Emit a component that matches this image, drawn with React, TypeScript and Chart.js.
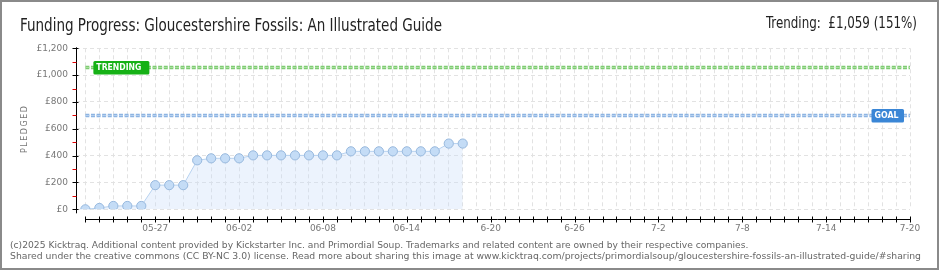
import React, { useEffect, useRef } from 'react';
import { Chart, registerables } from 'chart.js';

Chart.register(...registerables);

const days = [
  '05-22', '05-23', '05-24', '05-25', '05-26', '05-27', '05-28', '05-29', '05-30', '05-31',
  '06-01', '06-02', '06-03', '06-04', '06-05', '06-06', '06-07', '06-08', '06-09', '06-10',
  '06-11', '06-12', '06-13', '06-14', '06-15', '06-16', '06-17', '06-18', '06-19', '06-20',
  '06-21', '06-22', '06-23', '06-24', '06-25', '06-26', '06-27', '06-28', '06-29', '06-30',
  '07-01', '07-02', '07-03', '07-04', '07-05', '07-06', '07-07', '07-08', '07-09', '07-10',
  '07-11', '07-12', '07-13', '07-14', '07-15', '07-16', '07-17', '07-18', '07-19', '07-20',
];

const pledged = [
  0, 10, 25, 25, 25, 180, 180, 180, 365, 380, 380, 380, 402, 402,
  402, 402, 402, 402, 402, 432, 432, 432, 432, 432, 432, 432, 490, 490,
];

const xTickDays = ['05-27', '06-02', '06-08', '06-14', '06-20', '06-26', '07-02', '07-08', '07-14', '07-20'];
const xTickLabels = ['05-27', '06-02', '06-08', '06-14', '6-20', '6-26', '7-2', '7-8', '7-14', '7-20'];

const yTicks = [0, 100, 200, 300, 400, 500, 600, 700, 800, 900, 1000, 1100, 1200];
const yMajorStep = 200;

const goal = 700;
const trending = 1059;

const titleText = 'Funding Progress: Gloucestershire Fossils: An Illustrated Guide';
const trendingText = 'Trending:  \u00a31,059 (151%)';
const footerLines = [
  '(c)2025 Kicktraq. Additional content provided by Kickstarter Inc. and Primordial Soup. Trademarks and related content are owned by their respective companies.',
  'Shared under the creative commons (CC BY-NC 3.0) license. Read more about sharing this image at www.kicktraq.com/projects/primordialsoup/gloucestershire-fossils-an-illustrated-guide/#sharing',
];

const TICK_FONT = '"DejaVu Sans", sans-serif';
const TITLE_FONT = '"Liberation Sans Narrow", "DejaVu Sans Condensed", Roboto, sans-serif';

function labelFor(v: number): string {
  const k = xTickDays.indexOf(days[v]);
  return k >= 0 ? xTickLabels[k] : '';
}

function fmtPound(v: number): string {
  return '\u00a3' + v.toLocaleString('en-GB');
}

const decorPlugin = {
  id: 'decor',
  beforeDraw(chart: any) {
    const { ctx } = chart;
    ctx.save();
    ctx.fillStyle = '#ffffff';
    ctx.fillRect(0, 0, chart.width, chart.height);
    ctx.restore();
  },
  beforeDatasetsDraw(chart: any) {
    const { ctx, scales } = chart;
    const xs = scales.x;
    const ys = scales.y;
    const x0 = xs.getPixelForValue(0);
    const x1 = xs.getPixelForValue(days.length - 1);
    const drawRef = (val: number, outer: string, inner: string) => {
      const y = Math.round(ys.getPixelForValue(val)) + 0.5;
      ctx.save();
      ctx.setLineDash([4, 1.6]);
      ctx.lineWidth = 3.4;
      ctx.strokeStyle = outer;
      ctx.beginPath();
      ctx.moveTo(x0, y);
      ctx.lineTo(x1, y);
      ctx.stroke();
      ctx.lineWidth = 1.2;
      ctx.strokeStyle = inner;
      ctx.beginPath();
      ctx.moveTo(x0, y);
      ctx.lineTo(x1, y);
      ctx.stroke();
      ctx.restore();
    };
    drawRef(trending, '#7fcb73', '#a9e19f');
    drawRef(goal, '#8db4e2', '#b6d0ef');
  },
  afterDatasetsDraw(chart: any) {
    const { ctx, scales, chartArea } = chart;
    const xs = scales.x;
    const ys = scales.y;
    const x0 = xs.getPixelForValue(0);
    const x1 = xs.getPixelForValue(days.length - 1);
    const yZero = ys.getPixelForValue(0);
    const yTop = ys.getPixelForValue(yTicks[yTicks.length - 1]);

    ctx.save();
    // reference label boxes
    const box = (val: number, left: number, w: number, color: string, text: string, tw: number) => {
      const y = Math.round(ys.getPixelForValue(val)) + 0.5;
      ctx.fillStyle = color;
      ctx.beginPath();
      (ctx as any).roundRect(left, y - 6.5, w, 13.5, 1.5);
      ctx.fill();
      ctx.fillStyle = '#ffffff';
      ctx.font = `bold 9px ${TICK_FONT}`;
      ctx.textBaseline = 'middle';
      ctx.textAlign = 'left';
      ctx.fillText(text, left + 3, y + 0.5, tw);
    };
    box(trending, x0 + 8, 56, '#16b116', 'TRENDING', 45);
    box(goal, x1 - 38.5, 32.5, '#3a86d6', 'GOAL', 24);

    // y axis
    const ax = Math.round(chartArea.left) + 0.5;
    ctx.strokeStyle = '#000000';
    ctx.lineWidth = 1;
    ctx.beginPath();
    ctx.moveTo(ax, yTop - 1);
    ctx.lineTo(ax, yZero + 4);
    ctx.stroke();
    yTicks.forEach((v) => {
      const y = Math.round(ys.getPixelForValue(v)) + 0.5;
      const major = v % yMajorStep === 0;
      ctx.strokeStyle = major ? '#000000' : '#e00000';
      ctx.beginPath();
      ctx.moveTo(ax - 4, y);
      ctx.lineTo(major ? ax + 2 : ax, y);
      ctx.stroke();
    });

    // x axis
    const ay = Math.round(yZero + 10) + 0.5;
    ctx.strokeStyle = '#000000';
    ctx.beginPath();
    ctx.moveTo(x0, ay);
    ctx.lineTo(x1, ay);
    ctx.stroke();
    days.forEach((_, i) => {
      const x = Math.round(xs.getPixelForValue(i)) + 0.5;
      ctx.beginPath();
      ctx.moveTo(x, ay - 3);
      ctx.lineTo(x, ay + 3);
      ctx.stroke();
    });

    // PLEDGED axis title
    ctx.save();
    ctx.translate(25, (yTop + yZero) / 2);
    ctx.rotate(-Math.PI / 2);
    ctx.fillStyle = '#777777';
    ctx.font = `8px ${TICK_FONT}`;
    (ctx as any).letterSpacing = '1.5px';
    ctx.textAlign = 'center';
    ctx.textBaseline = 'middle';
    ctx.fillText('PLEDGED', 0, 0);
    ctx.restore();

    // title
    ctx.fillStyle = '#222222';
    ctx.font = `17px ${TITLE_FONT}`;
    ctx.textAlign = 'left';
    ctx.textBaseline = 'alphabetic';
    ctx.fillText(titleText, 20, 30.5, 422);
    ctx.font = `16px ${TITLE_FONT}`;
    ctx.textAlign = 'right';
    ctx.fillText(trendingText, 917, 27.5, 151);

    // footer
    ctx.fillStyle = '#666666';
    ctx.textAlign = 'left';
    const targets = [739, 912];
    const baselines = [247.5, 258.5];
    footerLines.forEach((t, i) => {
      ctx.font = `10px ${TICK_FONT}`;
      const w = ctx.measureText(t).width;
      const size = Math.min(10, (10 * targets[i]) / w);
      ctx.font = `${size.toFixed(2)}px ${TICK_FONT}`;
      ctx.fillText(t, 10, baselines[i]);
    });

    // outer frame
    ctx.strokeStyle = '#8a8a8a';
    ctx.lineWidth = 2;
    ctx.strokeRect(1, 1, chart.width - 3, chart.height - 2);
    ctx.restore();
  },
};

export default function App() {
  const ref = useRef<HTMLCanvasElement | null>(null);

  useEffect(() => {
    document.body.style.margin = '0';
    const canvas = ref.current;
    if (!canvas) return;
    const chart = new Chart(canvas, {
      type: 'line',
      data: {
        datasets: [
          {
            data: pledged.map((v, i) => ({ x: i, y: v })),
            borderColor: '#b7d2f0',
            borderWidth: 1,
            backgroundColor: 'rgba(200,222,248,0.35)',
            fill: 'origin',
            pointRadius: 4.6,
            pointBorderWidth: 1,
            pointBackgroundColor: '#c4dcf6',
            pointBorderColor: '#98b9de',
            tension: 0,
          },
        ],
      },
      options: {
        responsive: false,
        animation: false,
        devicePixelRatio: 1,
        layout: { padding: { top: 48.3, right: 30, bottom: 0, left: 0 } },
        plugins: { legend: { display: false }, tooltip: { enabled: false } },
        scales: {
          x: {
            type: 'linear',
            min: -0.67,
            max: days.length - 1,
            afterBuildTicks: (s: any) => {
              s.ticks = days.map((_, i) => ({ value: i }));
            },
            afterFit: (s: any) => {
              s.height = 60.7;
            },
            ticks: {
              autoSkip: false,
              maxRotation: 0,
              minRotation: 0,
              padding: 14,
              color: '#777777',
              font: { size: 9, family: TICK_FONT },
              callback: (v: any) => labelFor(Number(v)),
            },
            grid: { color: '#e2e2e2', drawTicks: false, lineWidth: 1 },
            border: { display: false, dash: [4, 3] },
          },
          y: {
            type: 'linear',
            min: 0,
            max: yTicks[yTicks.length - 1],
            afterBuildTicks: (s: any) => {
              s.ticks = yTicks.map((v) => ({ value: v }));
            },
            afterFit: (s: any) => {
              s.width = 76;
            },
            ticks: {
              autoSkip: false,
              padding: 8,
              color: '#777777',
              font: { size: 9, family: TICK_FONT },
              callback: (v: any) => (Number(v) % yMajorStep === 0 ? fmtPound(Number(v)) : ''),
            },
            grid: {
              color: (c: any) => (c.tick && c.tick.value % yMajorStep === 0 ? '#e2e2e2' : 'rgba(0,0,0,0)'),
              drawTicks: false,
              lineWidth: 1,
            },
            border: { display: false, dash: [4, 3] },
          },
        },
      },
      plugins: [decorPlugin],
    } as any);
    return () => chart.destroy();
  }, []);

  return (
    <div style={{ position: 'absolute', left: 0, top: 0, width: 940, height: 270 }}>
      <canvas ref={ref} width={940} height={270} style={{ display: 'block', width: 940, height: 270 }} />
    </div>
  );
}
